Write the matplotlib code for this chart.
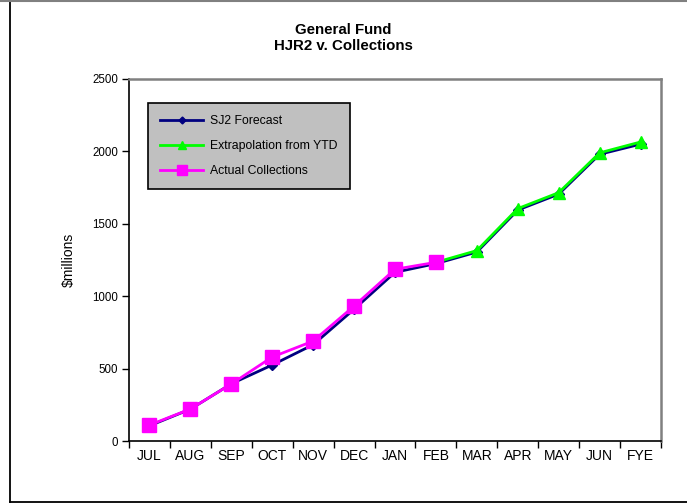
import matplotlib.pyplot as plt
from matplotlib.lines import Line2D

plt.rcParams["font.family"] = ["Liberation Sans", "DejaVu Sans"]

months = ["JUL", "AUG", "SEP", "OCT", "NOV", "DEC", "JAN",
          "FEB", "MAR", "APR", "MAY", "JUN", "FYE"]
sj2_forecast = [105, 220, 395, 525, 665, 910, 1165,
                1225, 1305, 1595, 1705, 1980, 2050]
extrap_months = ["FEB", "MAR", "APR", "MAY", "JUN", "FYE"]
extrap_ytd = [1234, 1315, 1605, 1715, 1990, 2065]
actual_months = ["JUL", "AUG", "SEP", "OCT", "NOV", "DEC", "JAN", "FEB"]
actual = [110, 221, 394, 580, 690, 932, 1186, 1234]

pos = {m: i + 0.5 for i, m in enumerate(months)}

fig = plt.figure(figsize=(6.87, 5.04), dpi=100)
ax = fig.add_axes([129 / 687, 1 - 441 / 504, 532 / 687, 362 / 504])

# outer chart frame: black left/bottom, gray top, cut off on the right
x0, y0 = 9.5 / 687, 2 / 504
fig.lines.append(Line2D([x0, x0], [y0, 1], transform=fig.transFigure,
                        color="black", lw=1.3))
fig.lines.append(Line2D([x0, 1], [y0, y0], transform=fig.transFigure,
                        color="black", lw=1.3))
fig.lines.append(Line2D([0, 1], [0.998, 0.998], transform=fig.transFigure,
                        color="#808080", lw=1.5))

ax.plot([pos[m] for m in months], sj2_forecast, color="#000080", lw=2,
        marker="D", markersize=5, label="SJ2 Forecast")
ax.plot([pos[m] for m in extrap_months], extrap_ytd, color="#00ff00", lw=2,
        marker="^", markersize=9, label="Extrapolation from YTD")
ax.plot([pos[m] for m in actual_months], actual, color="#ff00ff", lw=2,
        marker="s", markersize=9.5, label="Actual Collections")

ax.set_xlim(0, 13)
ax.set_ylim(0, 2500)
ax.set_yticks(range(0, 2501, 500))
ax.set_xticks(range(0, 14))
ax.set_xticklabels([])
ax.set_xticks([pos[m] for m in months], minor=True)
ax.set_xticklabels(months, minor=True, fontsize=10)
ax.tick_params(axis="x", which="minor", length=0, pad=6)
ax.tick_params(axis="x", which="major", length=5, width=1)
ax.tick_params(axis="y", labelsize=8.3, length=5, width=1, pad=3)

for s in ["left", "bottom"]:
    ax.spines[s].set_color("black")
    ax.spines[s].set_linewidth(1.2)
for s in ["top", "right"]:
    ax.spines[s].set_color("#808080")
    ax.spines[s].set_linewidth(1.8)

ax.set_ylabel("$millions", fontsize=10, labelpad=12)
fig.text(343 / 687, 1 - 38 / 504, "General Fund\nHJR2 v. Collections", ha="center",
         va="center", fontsize=10.8, fontweight="bold", linespacing=1.1)

leg = ax.legend(loc="upper left", bbox_to_anchor=(0.036, 0.934), borderaxespad=0,
                fontsize=8.8, fancybox=False, edgecolor="black", facecolor="#c0c0c0",
                framealpha=1, handlelength=3.5, labelspacing=1.05, borderpad=1.0,
                handletextpad=0.6, markerscale=0.7)
leg.get_frame().set_linewidth(1.2)

plt.savefig("out.png", dpi=100)
plt.close()
